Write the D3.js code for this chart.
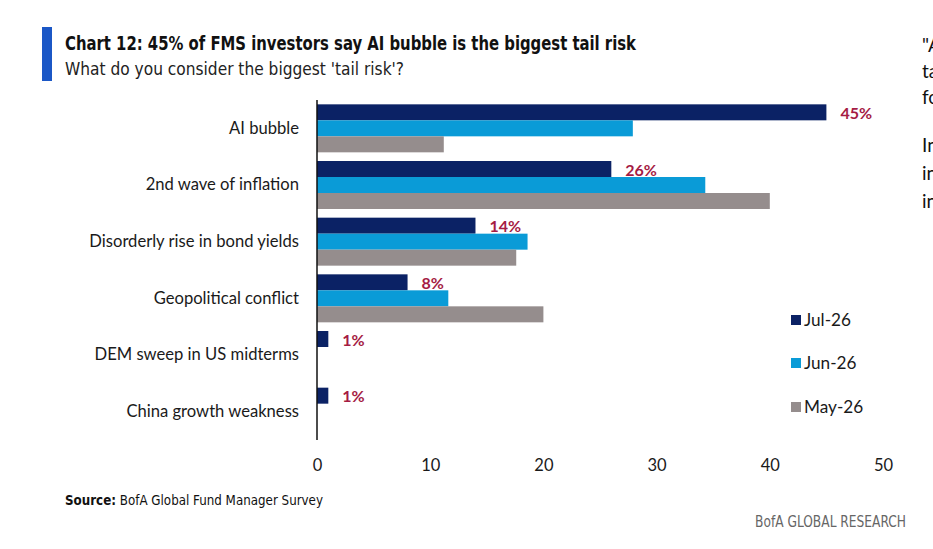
<!DOCTYPE html>
<html>
<head>
<meta charset="utf-8">
<script src="https://cdn.jsdelivr.net/npm/d3@7/dist/d3.min.js"></script>
<style>
  html, body { margin: 0; padding: 0; background: #fff; overflow: hidden; }
  svg { display: block; }
</style>
</head>
<body>
<svg id="chart" width="933" height="549"></svg>
<script>
// ---- data ----
const categories = ["AI bubble", "2nd wave of inflation", "Disorderly rise in bond yields",
  "Geopolitical conflict", "DEM sweep in US midterms", "China growth weakness"];
const seriesNames = ["Jul-26", "Jun-26", "May-26"];
const jul26 = [45, 26, 14, 8, 1, 1];
const jun26 = [27.9, 34.3, 18.6, 11.6, 0, 0];
const may26 = [11.2, 40.0, 17.6, 20.0, 0, 0];
const xTicks = [0, 10, 20, 30, 40, 50];
const titleText = "Chart 12: 45% of FMS investors say AI bubble is the biggest tail risk";
const subtitleText = "What do you consider the biggest 'tail risk'?";
const sideText = ["\"A", "ta", "fo", "In", "in", "in"];

const seriesValues = [jul26, jun26, may26];
const colors = ["#0b2265", "#0a9bd7", "#958d8d"];
const labelColor = "#a51c44";
const bodyFont = "Lato, 'Noto Sans', sans-serif";
const condFont = "'Liberation Sans Narrow','DejaVu Sans Condensed','Roboto Condensed',sans-serif";

const svg = d3.select("#chart");

// ---- header ----
svg.append("rect").attr("x", 42).attr("y", 27).attr("width", 10).attr("height", 54).attr("fill", "#1b57c6");
svg.append("text").attr("x", 65).attr("y", 50)
  .attr("font-family", condFont)
  .attr("font-stretch", "condensed").attr("font-weight", "bold").attr("font-size", 19.5)
  .attr("fill", "#111").attr("textLength", 571).attr("lengthAdjust", "spacingAndGlyphs")
  .text(titleText);
svg.append("text").attr("x", 65).attr("y", 75)
  .attr("font-family", condFont)
  .attr("font-stretch", "condensed").attr("font-size", 18.5)
  .attr("fill", "#222").attr("textLength", 339).attr("lengthAdjust", "spacingAndGlyphs")
  .text(subtitleText);

// ---- side text (clipped page text at the right edge, as in the reference) ----
const sideY = [52, 78, 104, 152, 180, 208];
svg.selectAll("text.side").data(sideText).join("text").attr("class", "side")
  .attr("x", 922).attr("y", (d, i) => sideY[i])
  .attr("font-family", bodyFont).attr("font-size", 19).attr("fill", "#111")
  .text(d => d);

// ---- scales ----
const x = d3.scaleLinear().domain([0, 50]).range([317, 883]);
const y = d3.scaleBand().domain(categories).range([100, 440]).paddingInner(0.153).paddingOuter(0.0765);
const ySub = d3.scaleBand().domain(seriesNames).range([0, y.bandwidth()]).padding(0);

// ---- bars ----
const groups = svg.selectAll("g.cat").data(categories).join("g").attr("class", "cat")
  .attr("transform", d => `translate(0,${y(d)})`);

groups.selectAll("rect").data((c, ci) => seriesNames.map((s, si) => ({ s, si, v: seriesValues[si][ci] })))
  .join("rect")
  .attr("x", x(0))
  .attr("y", d => ySub(d.s))
  .attr("width", d => Math.max(0, x(d.v) - x(0)))
  .attr("height", ySub.bandwidth())
  .attr("fill", d => colors[d.si]);

// value labels for Jul-26
groups.append("text")
  .attr("x", (c, ci) => x(jul26[ci]) + 14)
  .attr("y", ySub("Jul-26") + ySub.bandwidth() / 2 + 1)
  .attr("dy", "0.36em")
  .attr("font-family", bodyFont).attr("font-weight", "bold").attr("font-size", 16)
  .attr("fill", labelColor)
  .text((c, ci) => jul26[ci] + "%");

// ---- axes ----
const yAxis = svg.append("g").attr("transform", `translate(${x(0)},0)`)
  .call(d3.axisLeft(y).tickSize(0).tickPadding(18));
yAxis.select(".domain").remove();
yAxis.selectAll("text").attr("font-family", bodyFont).attr("font-size", 16.6).attr("fill", "#1a1a1a");

svg.append("line").attr("x1", x(0)).attr("x2", x(0)).attr("y1", 100).attr("y2", 440)
  .attr("stroke", "#111").attr("stroke-width", 1.5);

const xAxis = svg.append("g").attr("transform", "translate(0,440)")
  .call(d3.axisBottom(x).tickValues(xTicks).tickSize(0).tickPadding(19));
xAxis.select(".domain").remove();
xAxis.selectAll("text").attr("font-family", bodyFont).attr("font-size", 16.5).attr("fill", "#1a1a1a");

// ---- legend ----
const legendY = [320, 363, 407];
const lg = svg.selectAll("g.lg").data(seriesNames).join("g").attr("class", "lg")
  .attr("transform", (d, i) => `translate(791,${legendY[i]})`);
lg.append("rect").attr("x", 0).attr("y", -5).attr("width", 10).attr("height", 10).attr("fill", (d, i) => colors[i]);
lg.append("text").attr("x", 13).attr("dy", "0.36em")
  .attr("font-family", bodyFont).attr("font-size", 17.2).attr("fill", "#1a1a1a")
  .text(d => d);

// ---- footer ----
const src = svg.append("text").attr("x", 65).attr("y", 505)
  .attr("font-family", condFont)
  .attr("font-stretch", "condensed").attr("font-size", 14.5).attr("fill", "#111")
  .attr("textLength", 258).attr("lengthAdjust", "spacingAndGlyphs");
src.append("tspan").attr("font-weight", "bold").text("Source:");
src.append("tspan").text(" BofA Global Fund Manager Survey");

svg.append("text").attr("x", 906).attr("y", 527).attr("text-anchor", "end")
  .attr("font-family", condFont)
  .attr("font-stretch", "condensed").attr("font-size", 15.5).attr("fill", "#666")
  .attr("textLength", 151).attr("lengthAdjust", "spacingAndGlyphs")
  .text("BofA GLOBAL RESEARCH");
</script>
</body>
</html>
